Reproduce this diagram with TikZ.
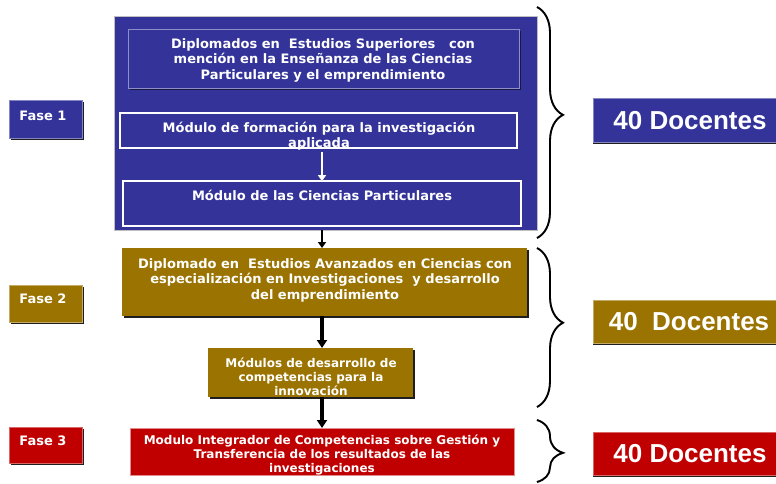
\documentclass[tikz,border=0pt]{standalone}
\usepackage{fontspec}
\newfontfamily\dvs{DejaVu Sans}
\newfontfamily\lbs{Liberation Sans}
\usetikzlibrary{arrows.meta,shadows,decorations.pathreplacing,calc}
\definecolor{fblue}{RGB}{51,51,153}
\definecolor{fgold}{RGB}{155,115,0}
\definecolor{fred}{RGB}{192,0,0}
\definecolor{fshadow}{RGB}{30,30,30}
\begin{document}
\begin{tikzpicture}[x=1pt,y=-1pt,
  box/.style={inner sep=0pt, outer sep=0pt, anchor=north west},
  shd/.style={drop shadow={shadow xshift=2pt, shadow yshift=-2pt, fill=fshadow, opacity=1}},
  shdy/.style={drop shadow={shadow xshift=0pt, shadow yshift=-2pt, fill=fshadow, opacity=1}},
  txt/.style={text=white, align=center, inner sep=0pt},
  mtxt/.style={txt, font=\dvs\bfseries\fontsize{13}{15.5}\selectfont},
  stxt/.style={txt, font=\dvs\bfseries\fontsize{12}{14}\selectfont},
  ftxt/.style={txt, font=\dvs\bfseries\fontsize{13}{15}\selectfont},
  dtxt/.style={txt, font=\lbs\bfseries\fontsize{26}{29}\selectfont},
  arrK/.style={draw=black, line width=3.5pt, -{Triangle[width=10pt,length=8pt]}},
  arrA/.style={draw=black, line width=2pt, -{Triangle[width=8pt,length=6pt]}},
  arrW/.style={draw=white, line width=2.5pt, -{Triangle[width=8pt,length=6pt]}},
  brc/.style={decorate, line width=1.8pt},
]
\useasboundingbox (0,0) rectangle (776,483);

% ---------- Phase 1 ----------
\node[box, fill=fblue, draw=black!25, line width=1pt, minimum width=423pt, minimum height=214pt] (big) at (114,16) {};
\node[box, fill=fblue, draw=fblue!55!white, line width=0.8pt, minimum width=391pt, minimum height=59pt,
      drop shadow={shadow xshift=2pt, shadow yshift=-2pt, fill=fblue!45!black, opacity=1}] (b1) at (128,29) {};
\node[mtxt] (b1t) at (323,60) {Diplomados en~ Estudios Superiores~~ con\\mención en la Enseñanza de las Ciencias\\Particulares y el emprendimiento};
\node[box, fill=fblue, draw=white, line width=1.4pt, minimum width=397pt, minimum height=35pt] (form) at (120,113) {};
\node[mtxt] (formt) at (319,136) {Módulo de formación para la investigación\\aplicada};
\node[box, fill=fblue, draw=white, line width=1.4pt, minimum width=398pt, minimum height=45pt] (cien) at (123,181) {};
\node[mtxt] (cient) at (322,195) {Módulo de las Ciencias Particulares};
\node[box, fill=fblue, draw=fblue!60!white, line width=0.6pt, minimum width=73pt, minimum height=38pt, shd] (f1) at (9,100) {};
\node[ftxt] (f1t) at (43,116) {Fase 1};

% ---------- Phase 2 ----------
\node[box, fill=fgold, minimum width=405pt, minimum height=68pt, shd] (dip) at (122,248) {};
\node[mtxt] (dipt) at (325,280) {Diplomado en~ Estudios Avanzados en Ciencias con\\especialización en Investigaciones~ y desarrollo\\del emprendimiento};
\node[box, fill=fgold, minimum width=205pt, minimum height=49pt, shd] (mods) at (208,348) {};
\node[stxt] (modst) at (311,377) {Módulos de desarrollo de\\competencias para la\\innovación};
\node[box, fill=fgold, draw=fgold!60!white, line width=0.6pt, minimum width=73pt, minimum height=37pt, shd] (f2) at (9,285) {};
\node[ftxt] (f2t) at (43,299) {Fase 2};

% ---------- Phase 3 ----------
\node[box, fill=fred, draw=fred!45!white, line width=0.8pt, minimum width=384pt, minimum height=47pt] (integ) at (130,428) {};
\node[stxt] (integt) at (322,455) {Modulo Integrador de Competencias sobre Gestión y\\Transferencia de los resultados de las\\investigaciones};
\node[box, fill=fred, draw=fred!60!white, line width=0.6pt, minimum width=73pt, minimum height=36pt, shd] (f3) at (9,427) {};
\node[ftxt] (f3t) at (43,441) {Fase 3};

% ---------- 40 Docentes ----------
\node[box, fill=fblue, draw=fblue!60!white, line width=0.6pt, minimum width=183pt, minimum height=44pt, shdy] (d1) at (593,98) {};
\node[dtxt] (d1t) at (690,121) {40 Docentes};
\node[box, fill=fgold, draw=fgold!60!white, line width=0.6pt, minimum width=183pt, minimum height=43pt, shdy] (d2) at (593,300) {};
\node[dtxt] (d2t) at (689,322) {40~ Docentes};
\node[box, fill=fred, draw=fred!60!white, line width=0.6pt, minimum width=183pt, minimum height=43pt, shdy] (d3) at (593,432) {};
\node[dtxt] (d3t) at (690,454) {40 Docentes};

% ---------- arrows ----------
\coordinate (ax) at (322,0);
\draw[draw=black!45, line width=2.5pt, shorten <=4pt, -{Triangle[width=8pt,length=6pt]}, xshift=1pt] (form.south -| ax) -- (cien.north -| ax);
\draw[arrW, shorten <=4pt] (form.south -| ax) -- (cien.north -| ax);
\draw[arrA] (big.south -| ax) -- (dip.north -| ax);
\draw[arrK] (dip.south -| ax) -- (mods.north -| ax);
\draw[arrK] (mods.south -| ax) -- (integ.north -| ax);

% ---------- braces ----------
\coordinate (b1s) at (537,7);   \coordinate (b1e) at (537,238);
\coordinate (b2s) at (537,248); \coordinate (b2e) at (537,407);
\coordinate (b3s) at (537,420); \coordinate (b3e) at (537,482);
\begin{scope}[xshift=-1.5pt, draw=black!40]
\draw[brc, black!40, decoration={brace, amplitude=26pt, aspect=0.467}] (b1s) -- (b1e);
\draw[brc, black!40, decoration={brace, amplitude=26pt, aspect=0.47}] (b2s) -- (b2e);
\draw[brc, black!40, decoration={brace, amplitude=26pt, aspect=0.53}] (b3s) -- (b3e);
\end{scope}
\draw[brc, decoration={brace, amplitude=26pt, aspect=0.467}] (b1s) -- (b1e);
\draw[brc, decoration={brace, amplitude=26pt, aspect=0.47}] (b2s) -- (b2e);
\draw[brc, decoration={brace, amplitude=26pt, aspect=0.53}] (b3s) -- (b3e);
\end{tikzpicture}
\end{document}
